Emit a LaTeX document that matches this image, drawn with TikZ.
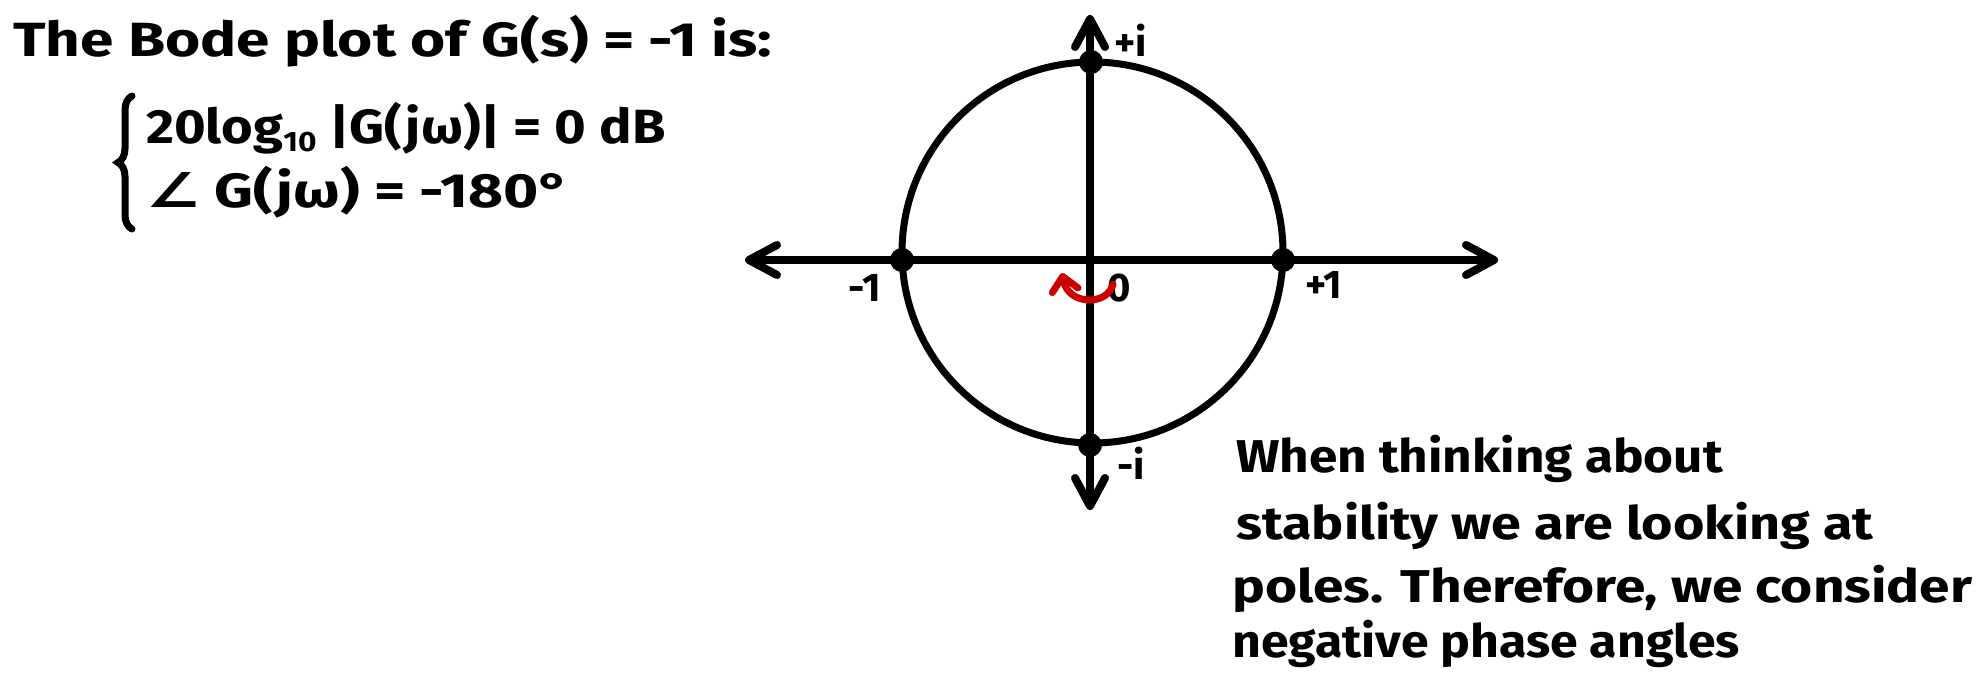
\documentclass[tikz,border=0pt]{standalone}
\usepackage{fontspec}
\setmainfont{Fira Sans}
\newfontfamily\symfont{DejaVu Sans}
\usetikzlibrary{arrows.meta,decorations.pathreplacing}
\definecolor{redink}{HTML}{CC0000}
\begin{document}
\begin{tikzpicture}[x=1pt,y=-1pt,
  axisline/.style={line width=8pt,line cap=round,
    {Straight Barb[length=28pt,width=30pt,line cap=round,line join=round]}-{Straight Barb[length=28pt,width=30pt,line cap=round,line join=round]}},
  ring/.style={circle,draw,line width=7pt,minimum size=381pt,inner sep=0pt},
  dot/.style={circle,fill=black,minimum size=24pt,inner sep=0pt},
  lbl/.style={font=\bfseries\fontsize{40}{40}\selectfont,inner sep=0pt},
  hand/.style={font=\bfseries\fontsize{48}{48}\selectfont,anchor=base west,inner sep=0pt},
  note/.style={font=\bfseries\fontsize{46}{46}\selectfont,anchor=base west,inner sep=0pt},
  turn/.style={draw=redink,line width=7pt,line cap=round,
    -{Straight Barb[length=14pt,width=26pt,line cap=round,line join=round]}}
]
\useasboundingbox (0,0) rectangle (1988,690);
% axes
\coordinate (L) at (745,260);
\coordinate (R) at (1498,260);
\coordinate (T) at (1090,15);
\coordinate (B) at (1090,510);
\draw[axisline] (L) -- (R);
\draw[axisline] (B) -- (T);
% unit circle
\node[ring] (C) at (1092.5,252.5) {};
\node[dot] (m1) at (902,260) {};
\node[dot] (p1) at (1283,260) {};
\node[dot] (pi) at (1091,62) {};
\node[dot] (mi) at (1090,445) {};
% labels
\node[lbl] (lm1) at (865,288) {-1};
\node[lbl] (lp1) at (1324,285) {+1};
\node[lbl] (lpi) at (1131,40) {+i};
\node[lbl] (lmi) at (1131,463) {-i};
\node[lbl] (l0) at (1119,288) {0};
% red rotation arrow
\coordinate (r0) at (1113,284);
\coordinate (r1) at (1062,273);
\draw[turn] (r0) .. controls (1108,306) and (1068,306) .. (r1);
% title and equations
\node[hand] (title) at (13,57) {\scalebox{1.256}[1]{The Bode plot of G(s) = -1 is:}};
\node[hand] (eq1) at (146,143) {\scalebox{1.13}[1]{20log\raisebox{-0.35ex}{\fontsize{28}{28}\selectfont 10} |G(jω)| = 0 dB}};
\node[hand] (eq2) at (146,207) {\scalebox{1.256}[1]{{\symfont ∠} G(jω) = -180°}};
\coordinate (bt) at (132,96);
\coordinate (bb) at (132,229);
\draw[line width=7pt,line cap=round,decorate,decoration={brace,amplitude=14pt}] (bb) -- (bt);
% note
\node[note] (n1) at (1236,472) {\scalebox{1.114}[1]{When thinking about}};
\node[note] (n2) at (1236,539) {\scalebox{1.17}[1]{stability we are looking at}};
\node[note] (n3) at (1232,602) {\scalebox{1.196}[1]{poles. Therefore, we consider}};
\node[note] (n4) at (1232,657) {\scalebox{1.087}[1]{negative phase angles}};
\end{tikzpicture}
\end{document}
